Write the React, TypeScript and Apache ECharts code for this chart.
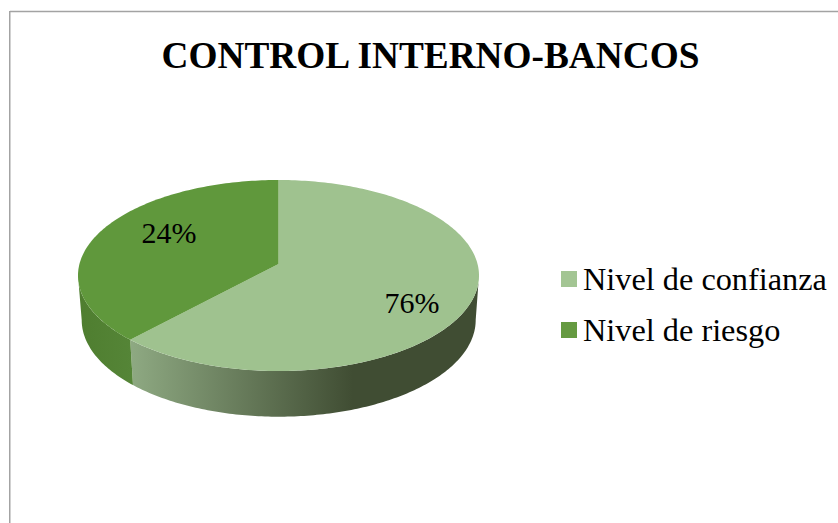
import React, { useEffect, useRef } from "react";
import * as echarts from "echarts";

const titleText = "CONTROL INTERNO-BANCOS";
const categories = ["Nivel de confianza", "Nivel de riesgo"];
// Printed labels, and the share of the ellipse each slice visibly covers in the picture.
const percentLabels = ["76%", "24%"];
const visibleShares = [63.25, 36.75];

const SERIF = "Liberation Serif";
const CX = 278.5;
const TOP = { cy: 275.5, rx: 200.5, ry: 95.5 };
const BOTTOM = { cx: 278.7, cy: 320, rx: 197, ry: 96.7 };
const APEX_Y = 264;
const LABEL_POS = [
  [412, 302],
  [169, 232],
];
const TOP_COLORS = ["#9fc28f", "#60983c"];
const LEGEND_COLORS = ["#a3c593", "#659a41"];

const topPt = (t: number) => [CX + TOP.rx * Math.sin(t), TOP.cy - TOP.ry * Math.cos(t)];
const botPt = (t: number) => [BOTTOM.cx + BOTTOM.rx * Math.sin(t), BOTTOM.cy - BOTTOM.ry * Math.cos(t)];
const arc = (fn: (t: number) => number[], a: number, b: number) => {
  const n = Math.max(2, Math.ceil(Math.abs(b - a) * 60));
  const pts: number[][] = [];
  for (let i = 0; i <= n; i++) pts.push(fn(a + ((b - a) * i) / n));
  return pts;
};

const wallFill = (index: number) =>
  index === 0
    ? {
        type: "linear",
        global: true,
        x: 131,
        y: 0,
        x2: 353,
        y2: 0,
        colorStops: [
          { offset: 0, color: "#8ea982" },
          { offset: 1, color: "#404d33" },
        ],
      }
    : {
        type: "linear",
        global: true,
        x: 82,
        y: 0,
        x2: 132,
        y2: 0,
        colorStops: [
          { offset: 0, color: "#4f7e30" },
          { offset: 1, color: "#558537" },
        ],
      };

const makeRender = (index: number) => (_params: any, api: any) => {
  const startShare = api.value(0) as number;
  const share = api.value(1) as number;
  const a = (startShare / 100) * 2 * Math.PI;
  const b = ((startShare + share) / 100) * 2 * Math.PI;
  const wa = Math.max(a, Math.PI / 2);
  const wb = Math.min(b, (3 * Math.PI) / 2);
  const children: any[] = [];
  if (wb > wa) {
    children.push({
      type: "polygon",
      shape: { points: [...arc(topPt, wa, wb), ...arc(botPt, wb, wa)] },
      style: { fill: wallFill(index) },
    });
  }
  children.push({
    type: "polygon",
    shape: { points: [[CX, APEX_Y], ...arc(topPt, a, b)] },
    style: { fill: TOP_COLORS[index] },
  });
  children.push({
    type: "text",
    x: LABEL_POS[index][0],
    y: LABEL_POS[index][1],
    style: {
      text: percentLabels[index],
      fill: "#000",
      font: `30px "${SERIF}"`,
      align: "center",
      verticalAlign: "middle",
    },
  });
  return { type: "group", children };
};

export default function App() {
  const ref = useRef<HTMLDivElement>(null);
  useEffect(() => {
    document.body.style.margin = "0";
    const chart = echarts.init(ref.current!, undefined, { renderer: "svg" });
    let start = 0;
    const series = categories.map((name, i) => {
      const row = [start, visibleShares[i]];
      start += visibleShares[i];
      return {
        type: "custom",
        name,
        coordinateSystem: "none",
        itemStyle: { color: LEGEND_COLORS[i] },
        data: [row],
        renderItem: makeRender(i),
        silent: true,
      };
    });
    chart.setOption({
      animation: false,
      backgroundColor: "#fff",
      title: {
        text: titleText,
        left: 425.5,
        top: 32,
        textAlign: "center",
        textStyle: { fontFamily: SERIF, fontWeight: "bold", fontSize: 37.3, color: "#000" },
      },
      legend: {
        orient: "vertical",
        left: 561,
        top: 263,
        itemWidth: 16,
        itemHeight: 16,
        itemGap: 19,
        icon: "rect",
        selectedMode: false,
        padding: 0,
        textStyle: { fontFamily: SERIF, fontSize: 32.3, color: "#000", padding: [0, 0, 0, 1] },
        data: categories.map((name, i) => ({ name, itemStyle: { color: LEGEND_COLORS[i] } })),
      },
      graphic: [
        { type: "line", shape: { x1: 10, y1: 11.5, x2: 838, y2: 11.5 }, style: { stroke: "#a3a3a3", lineWidth: 1.5 } },
        { type: "line", shape: { x1: 9.75, y1: 11, x2: 9.75, y2: 523 }, style: { stroke: "#a3a3a3", lineWidth: 1.5 } },
      ],
      series,
    });
    return () => chart.dispose();
  }, []);
  return <div ref={ref} style={{ position: "fixed", left: 0, top: 0, width: 838, height: 523 }} />;
}
